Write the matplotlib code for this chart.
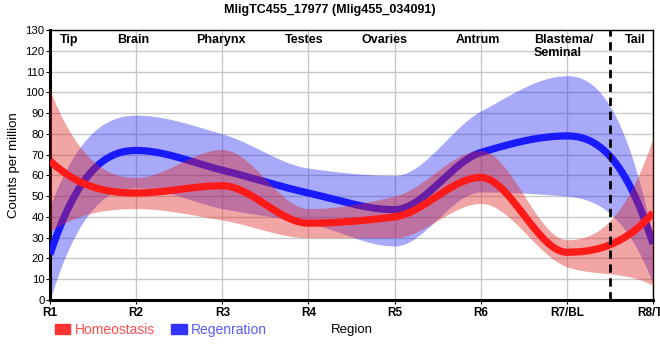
import numpy as np
import matplotlib.pyplot as plt
from matplotlib.patches import Patch
from matplotlib.transforms import blended_transform_factory

plt.rcParams['font.family'] = ['Liberation Sans', 'DejaVu Sans']

regions = ['R1', 'R2', 'R3', 'R4', 'R5', 'R6', 'R7/BL', 'R8/TL']
homeo = [67, 51.5, 55, 37, 40, 59, 23, 42]
homeo_lo = [33, 44, 38.5, 30, 30, 46.5, 16, 7]
homeo_hi = [101, 59, 72.5, 44, 50, 72, 29, 78]
regen = [22, 72, 62.5, 51.5, 43.5, 71, 79, 27]
regen_lo = [0, 54, 44, 37, 26, 52, 50, 8]
regen_hi = [45, 89, 80, 63.5, 60, 91, 108, 30]
tissues = ['Tip', 'Brain', 'Pharynx', 'Testes', 'Ovaries', 'Antrum', 'Blastema/\nSeminal', 'Tail']
tissue_x = [0.22, 0.97, 1.98, 2.95, 3.88, 4.97, 5.62, 6.79]


def smooth(y, xs):
    # monotone cubic through the points at 0,1,2,..., steep ends
    y = np.asarray(y, float)
    d = np.diff(y)
    m = np.zeros_like(y)
    for k in range(1, len(y) - 1):
        if d[k - 1] * d[k] > 0:
            m[k] = 2.0 / (1.0 / d[k - 1] + 1.0 / d[k])
    m[0] = 2.5 * d[0]
    m[-1] = 2.5 * d[-1]
    k = np.clip(np.floor(xs).astype(int), 0, len(y) - 2)
    t = xs - k
    h00 = 2 * t**3 - 3 * t**2 + 1
    h10 = t**3 - 2 * t**2 + t
    h01 = -2 * t**3 + 3 * t**2
    h11 = t**3 - t**2
    return h00 * y[k] + h10 * m[k] + h01 * y[k + 1] + h11 * m[k + 1]


xs = np.linspace(0, len(regions) - 1, 600)

fig = plt.figure(figsize=(6.6, 3.6), dpi=100)
ax = fig.add_axes([50 / 660, 60 / 360, 603 / 660, 270 / 360])

ax.fill_between(xs, smooth(regen_lo, xs), smooth(regen_hi, xs), color='#1e1ef0', alpha=0.38, lw=0, zorder=2)
ax.plot(xs, smooth(regen, xs), color='#1a1aff', lw=5.2, solid_capstyle='butt', zorder=3)
ax.fill_between(xs, smooth(homeo_lo, xs), smooth(homeo_hi, xs), color='#e02020', alpha=0.4, lw=0, zorder=4)
ax.plot(xs, smooth(homeo, xs), color='#ff1a1a', lw=5.2, solid_capstyle='butt', zorder=5)

ax.axvline(6.5, color='black', lw=2, ls=(0, (3, 2)), zorder=6)

ax.set_xlim(0, len(regions) - 1)
ax.set_ylim(0, 130)
ax.set_xticks(range(len(regions)))
ax.set_xticklabels(regions, fontsize=8.5, fontweight='bold')
ax.set_yticks(range(0, 131, 10))
ax.tick_params(axis='y', labelsize=8.2, length=3, pad=1)
ax.tick_params(axis='x', length=3, pad=2)
ax.grid(True, color='#c8c8c8', lw=1, zorder=0)
ax.set_axisbelow(True)
for side in ['left', 'bottom']:
    ax.spines[side].set_linewidth(2.2)
for side in ['top', 'right']:
    ax.spines[side].set_linewidth(1)

ax.set_ylabel('Counts per million', fontsize=9.5, labelpad=4)
fig.text(331 / 660, 1 - 330 / 360, 'Region', fontsize=9.5, va='center', ha='left')
fig.text(330 / 660, 1 - 10 / 360, 'MligTC455_17977 (Mlig455_034091)', fontsize=9,
         fontweight='bold', ha='center', va='center')

trans = blended_transform_factory(ax.transData, ax.transAxes)
for name, tx in zip(tissues, tissue_x):
    ha = 'left' if '\n' in name else 'center'
    ax.text(tx, 0.985, name, transform=trans, ha=ha, va='top', fontsize=9,
            fontweight='bold', linespacing=1.05, zorder=7)

handles = [Patch(color='#ff3333', label='Homeostasis'), Patch(color='#3333ff', label='Regenration')]
fig.legend(handles=handles, loc='center left', bbox_to_anchor=(55 / 660, 1 - 330 / 360),
           ncol=2, frameon=False, fontsize=10, handlelength=1.1, handleheight=0.7,
           handletextpad=0.3, columnspacing=1.2, labelcolor=['#ff4d4d', '#5a5aff'],
           borderaxespad=0, borderpad=0)

fig.savefig('out.png', dpi=100)
